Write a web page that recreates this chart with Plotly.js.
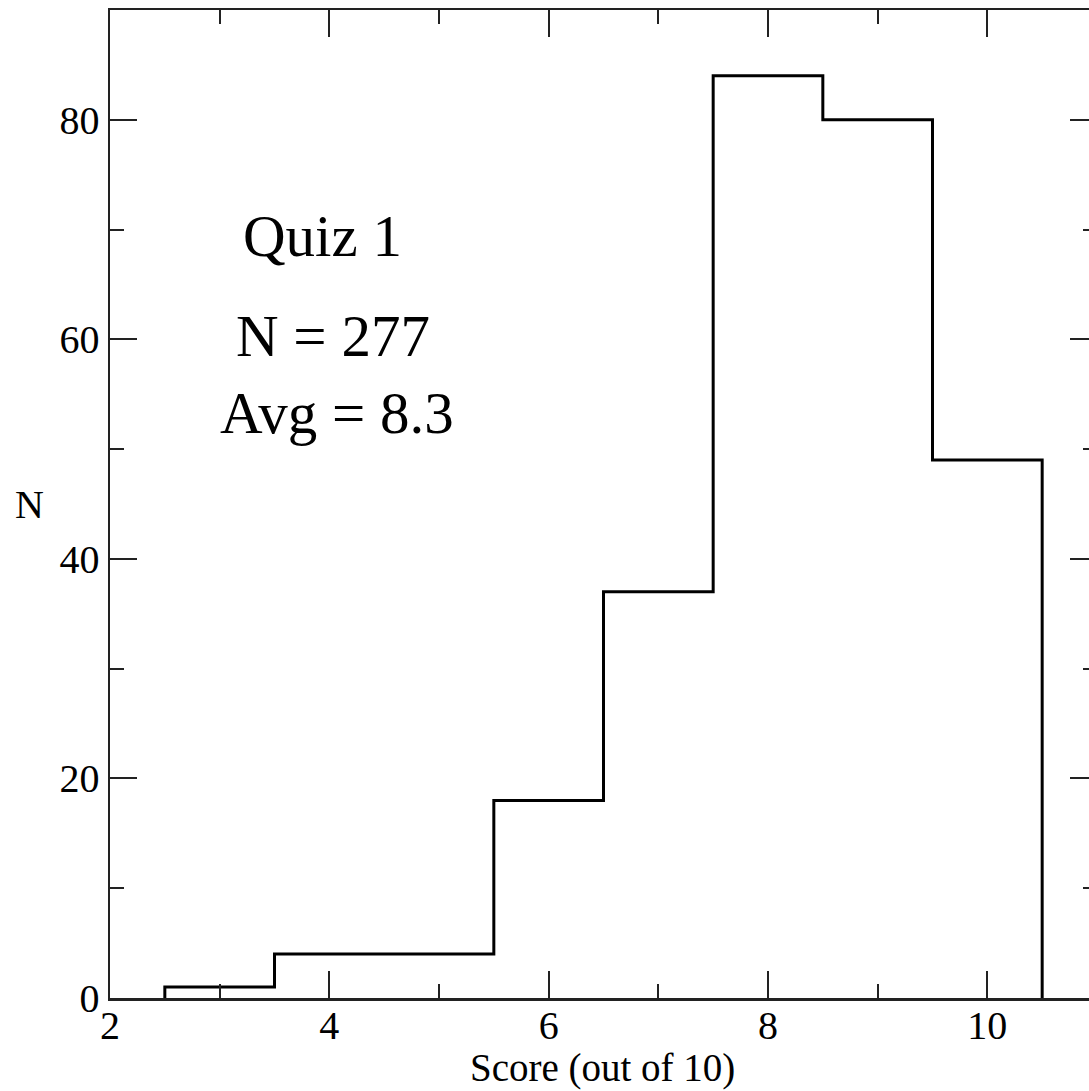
<!DOCTYPE html>
<html>
<head>
<meta charset="utf-8">
<script src="https://cdn.plot.ly/plotly-3.0.1.min.js"></script>
<style>
html, body { margin: 0; padding: 0; overflow: hidden; background: #fff; }
#chart { width: 1110px; height: 1091px; }
</style>
</head>
<body>
<div id="chart"></div>
<script>
// Histogram data
const scoreBins = [3, 4, 5, 6, 7, 8, 9, 10];
const counts = [1, 4, 4, 18, 37, 84, 80, 49];
const xTickVals = [2, 4, 6, 8, 10];
const yTickVals = [0, 20, 40, 60, 80];
const infoLines = ["Quiz 1", "N = 277", "Avg = 8.3"];
const infoX = [3.94, 4.03, 4.07];
const infoY = [69.4, 60.3, 53.3];

// Build the step outline from bin edges
const binWidth = 1;
const stepX = [scoreBins[0] - binWidth / 2]
  .concat(scoreBins.map(c => c - binWidth / 2))
  .concat([scoreBins[scoreBins.length - 1] + binWidth / 2]);
const stepY = [0].concat(counts).concat([0]);

const font = "Liberation Serif, Times New Roman, serif";

const trace = {
  x: stepX,
  y: stepY,
  type: "scatter",
  mode: "lines",
  line: { shape: "hv", color: "#000", width: 3 },
  hoverinfo: "skip",
  showlegend: false
};

const axisCommon = {
  showgrid: false,
  zeroline: false,
  showline: true,
  linecolor: "#222",
  linewidth: 2.5,
  mirror: "allticks",
  ticks: "inside",
  ticklen: 27,
  tickwidth: 2,
  tickcolor: "#222",
  tickfont: { family: font, size: 40, color: "#000" }
};

const annotations = infoLines.map((t, i) => ({
  x: infoX[i], y: infoY[i], xref: "x", yref: "y",
  text: t, showarrow: false,
  xanchor: "center", yanchor: "middle",
  font: { family: font, size: 59, color: "#000" }
}));
annotations.push({
  x: 0, y: 0.5, xref: "paper", yref: "paper",
  xanchor: "center", yanchor: "middle", xshift: -81,
  text: "N", showarrow: false,
  font: { family: font, size: 40, color: "#000" }
});
annotations.push({
  x: 0.5, y: 0, xref: "paper", yref: "paper",
  xanchor: "center", yanchor: "top", yshift: -46, xshift: -1,
  text: "Score (out of 10)", showarrow: false,
  font: { family: font, size: 39, color: "#000" }
});

const layout = {
  width: 1110,
  height: 1091,
  margin: { l: 110, r: 13, t: 10, b: 93 },
  paper_bgcolor: "#fff",
  plot_bgcolor: "#fff",
  xaxis: Object.assign({}, axisCommon, {
    range: [2, 11],
    tickvals: xTickVals,
    ticktext: xTickVals.map(String),
    ticklabelstandoff: -10,
    minor: { dtick: 1, tick0: 0, ticks: "inside", ticklen: 14, tickwidth: 2, tickcolor: "#222" }
  }),
  yaxis: Object.assign({}, axisCommon, {
    range: [0, 90],
    tickvals: yTickVals,
    ticktext: yTickVals.map(String),
    minor: { dtick: 10, tick0: 0, ticks: "inside", ticklen: 14, tickwidth: 2, tickcolor: "#222" }
  }),
  annotations: annotations
};

Plotly.newPlot("chart", [trace], layout, { displayModeBar: false, staticPlot: true });
</script>
</body>
</html>
